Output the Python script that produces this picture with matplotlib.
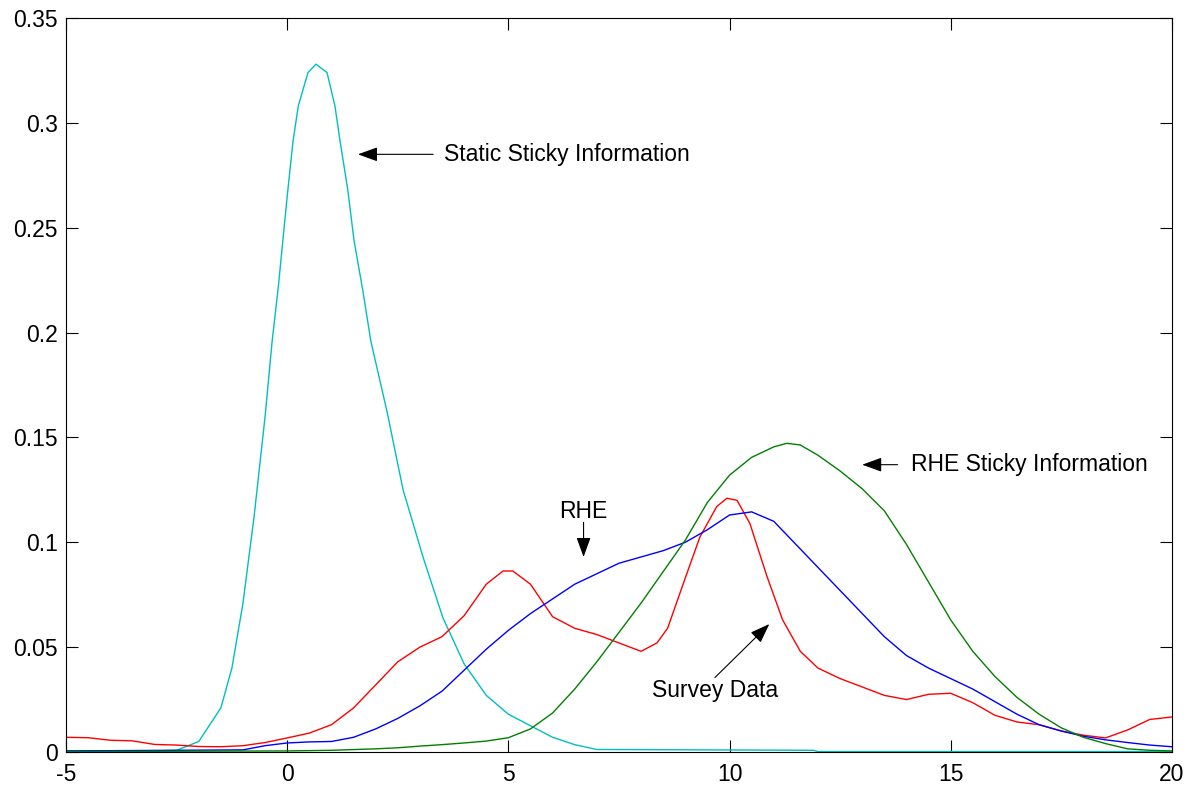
import matplotlib
matplotlib.use("Agg")
import matplotlib.pyplot as plt
from matplotlib.ticker import FuncFormatter

plt.rcParams["font.family"] = ["Liberation Sans", "DejaVu Sans"]
plt.rcParams["axes.unicode_minus"] = False

# Static sticky information (cyan)
x_static = [-5, -3, -2.5, -2.0, -1.5, -1.25, -1.0, -0.75, -0.5, -0.34, -0.2, 0, 0.13, 0.25,
            0.47, 0.65, 0.9, 1.08, 1.19, 1.37, 1.51, 1.71, 1.89, 2.26, 2.62, 3.07, 3.52,
            4.0, 4.5, 5.0, 5.5, 6.0, 6.5, 7.0, 11.9, 12.0, 20]
y_static = [0.0005, 0.0005, 0.0008, 0.005, 0.021, 0.040, 0.071, 0.112, 0.160, 0.196, 0.222,
            0.265, 0.291, 0.308, 0.324, 0.328, 0.324, 0.308, 0.292, 0.268, 0.244, 0.220,
            0.196, 0.162, 0.125, 0.093, 0.064, 0.042, 0.027, 0.018, 0.0125, 0.007, 0.0035,
            0.0012, 0.0008, 0.0002, 0.0002]

# Survey data (red)
x_survey = [-5, -4.5, -4, -3.5, -3, -2.5, -2, -1.5, -1, -0.5, 0, 0.5, 1, 1.5, 2, 2.5, 3,
            3.5, 4, 4.5, 4.88, 5.1, 5.5, 6, 6.5, 7, 7.5, 8, 8.36, 8.6, 9, 9.33, 9.71, 9.94,
            10.17, 10.46, 10.85, 11.2, 11.6, 12, 12.5, 13, 13.5, 14, 14.5, 15, 15.5, 16,
            16.5, 17, 17.5, 18, 18.5, 19, 19.5, 20]
y_survey = [0.007, 0.0068, 0.0056, 0.0053, 0.0036, 0.0033, 0.0026, 0.0025, 0.003, 0.0045,
            0.0067, 0.009, 0.013, 0.021, 0.032, 0.043, 0.050, 0.055, 0.065, 0.080, 0.0863,
            0.0863, 0.080, 0.0645, 0.059, 0.056, 0.052, 0.048, 0.052, 0.059, 0.083, 0.1025,
            0.117, 0.121, 0.120, 0.109, 0.0835, 0.063, 0.048, 0.040, 0.035, 0.031, 0.027,
            0.025, 0.0275, 0.028, 0.0235, 0.0175, 0.0143, 0.013, 0.010, 0.008, 0.0067,
            0.0105, 0.0155, 0.0167]

# RHE (blue)
x_rhe = [-5, -1, -0.5, 0, 0.5, 1, 1.5, 2, 2.5, 3, 3.5, 4, 4.5, 5, 5.5, 6, 6.5, 7, 7.5, 8,
         8.5, 9, 9.5, 10, 10.5, 11, 11.5, 12, 12.5, 13, 13.5, 14, 14.5, 15, 15.5, 16, 16.5,
         17, 17.5, 18, 18.5, 19, 19.5, 20]
y_rhe = [0.0005, 0.001, 0.003, 0.0043, 0.0048, 0.005, 0.007, 0.011, 0.016, 0.022, 0.029,
         0.039, 0.049, 0.058, 0.066, 0.073, 0.080, 0.085, 0.090, 0.093, 0.096, 0.100, 0.106,
         0.113, 0.1145, 0.110, 0.099, 0.088, 0.077, 0.066, 0.055, 0.046, 0.040, 0.035,
         0.030, 0.024, 0.018, 0.013, 0.010, 0.0075, 0.0058, 0.0045, 0.0033, 0.0025]

# RHE sticky information (green)
x_rhe_sticky = [-5, 0, 1, 2, 2.5, 3, 3.5, 4, 4.5, 5, 5.5, 6, 6.5, 7, 7.5, 8, 8.5, 9, 9.5,
                10, 10.5, 11, 11.3, 11.6, 12, 12.5, 13, 13.5, 14, 14.5, 15, 15.5, 16, 16.5,
                17, 17.5, 18, 18.5, 19, 19.5, 20]
y_rhe_sticky = [0.0002, 0.0005, 0.0008, 0.0015, 0.002, 0.0028, 0.0035, 0.0043, 0.0052,
                0.0068, 0.011, 0.0186, 0.030, 0.043, 0.057, 0.071, 0.086, 0.101, 0.119,
                0.132, 0.1405, 0.1455, 0.1472, 0.1464, 0.1415, 0.134, 0.1255, 0.115, 0.099,
                0.081, 0.063, 0.048, 0.036, 0.026, 0.018, 0.0115, 0.007, 0.004, 0.0015,
                0.0008, 0.0005]

x_ticks = [-5, 0, 5, 10, 15, 20]
y_ticks = [0, 0.05, 0.1, 0.15, 0.2, 0.25, 0.3, 0.35]

fig = plt.figure(figsize=(12.03, 7.87), dpi=100)
ax = fig.add_axes([0.0549, 0.0445, 0.9192, 0.9326])

ax.plot(x_static, y_static, color="#00BFBF", lw=1.0)
ax.plot(x_survey, y_survey, color="red", lw=1.0)
ax.plot(x_rhe, y_rhe, color="blue", lw=1.0)
ax.plot(x_rhe_sticky, y_rhe_sticky, color="#008000", lw=1.0)

ax.set_xlim(-5, 20)
ax.set_ylim(0, 0.35)
ax.set_xticks(x_ticks)
ax.set_yticks(y_ticks)
ax.yaxis.set_major_formatter(FuncFormatter(lambda v, p: "%g" % round(v, 4)))
ax.tick_params(direction="in", length=8.5, width=0.8, top=True, right=True,
               labelsize=16.5)
ax.tick_params(axis="x", pad=8)
ax.tick_params(axis="y", pad=6)
for s in ax.spines.values():
    s.set_linewidth(0.8)

fs = 16.5
arrow = dict(arrowstyle="-|>,head_length=0.55,head_width=0.2", color="black",
             lw=0.8, mutation_scale=22, shrinkA=0, shrinkB=0)
ax.annotate("", xy=(1.6, 0.285), xytext=(3.3, 0.285), arrowprops=arrow)
ax.text(3.55, 0.285, "Static Sticky Information", fontsize=fs, va="center", ha="left")

ax.annotate("", xy=(13.0, 0.137), xytext=(13.8, 0.137), arrowprops=arrow)
ax.text(14.1, 0.137, "RHE Sticky Information", fontsize=fs, va="center", ha="left")

ax.annotate("", xy=(6.7, 0.093), xytext=(6.7, 0.1095), arrowprops=arrow)
ax.text(6.7, 0.1145, "RHE", fontsize=fs, va="center", ha="center")

ax.annotate("", xy=(10.9, 0.061), xytext=(9.67, 0.0355), arrowprops=arrow)
ax.text(9.67, 0.0295, "Survey Data", fontsize=fs, va="center", ha="center")

fig.savefig("out.png", dpi=100)
